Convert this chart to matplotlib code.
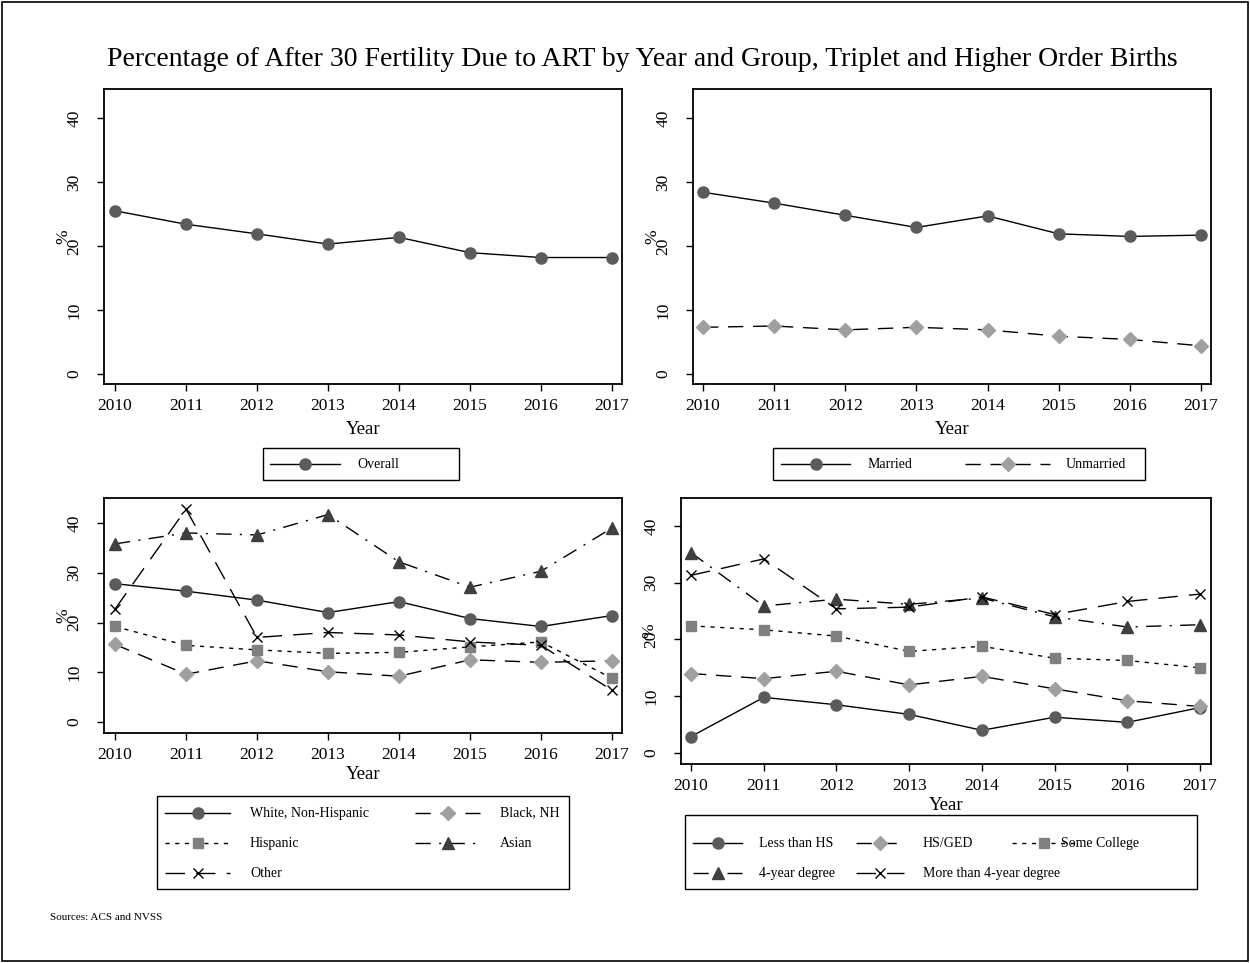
import matplotlib
matplotlib.use("Agg")
import matplotlib.pyplot as plt
from matplotlib.patches import Rectangle
from matplotlib.lines import Line2D

plt.rcParams['font.family'] = ['Liberation Serif', 'DejaVu Serif']

years = [2010, 2011, 2012, 2013, 2014, 2015, 2016, 2017]

# overall
overall = [25.5, 23.4, 21.9, 20.3, 21.35, 18.96, 18.2, 18.2]

# marital status
married = [28.4, 26.7, 24.8, 22.9, 24.7, 21.9, 21.5, 21.7]
unmarried = [7.3, 7.5, 6.9, 7.3, 6.9, 5.9, 5.4, 4.4]

# race / ethnicity
white_nh = [27.8, 26.3, 24.5, 22.0, 24.2, 20.8, 19.2, 21.4]
black_nh = [15.6, 9.6, 12.3, 10.1, 9.2, 12.5, 12.0, 12.3]
hispanic = [19.2, 15.4, 14.5, 13.8, 14.0, 15.1, 16.1, 8.8]
asian = [35.8, 38.0, 37.6, 41.7, 32.2, 27.1, 30.3, 39.0]
other = [22.7, 42.8, 17.0, 18.0, 17.5, 16.1, 15.4, 6.4]

# education
less_hs = [2.9, 9.8, 8.5, 6.8, 4.0, 6.3, 5.4, 8.0]
hs_ged = [14.0, 13.1, 14.4, 12.0, 13.5, 11.3, 9.2, 8.2]
some_college = [22.4, 21.7, 20.6, 17.9, 18.8, 16.7, 16.3, 15.0]
four_year = [35.3, 25.9, 27.1, 26.2, 27.3, 24.0, 22.2, 22.6]
more_four_year = [31.3, 34.2, 25.4, 25.7, 27.5, 24.4, 26.7, 28.0]

W, H = 1250, 963
fig = plt.figure(figsize=(W / 100, H / 100), dpi=100)
fig.patches.append(Rectangle((0.0015, 0.002), 0.997, 0.996, transform=fig.transFigure,
                             fill=False, edgecolor='black', linewidth=1.2))

# stata-like symbol styles
CIRCLE = dict(linestyle='-', marker='o', markersize=8, color='#5b5b5b')
DIAMOND = dict(linestyle=(0, (11, 7)), marker='D', markersize=7.5, color='#a0a0a0')
SQUARE = dict(linestyle=(0, (3, 4)), marker='s', markersize=7.5, color='#808080')
TRIANGLE = dict(linestyle=(0, (11, 6, 1.5, 6)), marker='^', markersize=8.5, color='#3f3f3f')
CROSS = dict(linestyle=(0, (14, 8)), marker='x', markersize=7.5, color='black')


def fx(px):
    return px / W


def fy(py):
    return 1 - py / H


def make_ax(l, t, r, b, ylim, xlim, pct_x, xpad=5):
    ax = fig.add_axes([fx(l), fy(b), (r - l) / W, (b - t) / H])
    ax.set_xlim(*xlim)
    ax.set_ylim(*ylim)
    ax.set_xticks(years)
    ax.set_yticks([0, 10, 20, 30, 40])
    ax.tick_params(direction='out', length=5, width=1, labelsize=12.5, colors='black')
    ax.tick_params(axis='x', pad=5)
    ax.tick_params(axis='y', pad=10.5)
    for lab in ax.get_yticklabels():
        lab.set_rotation(90)
        lab.set_va('center')
    for s in ax.spines.values():
        s.set_linewidth(1.3)
    ax.set_xlabel('Year', fontsize=13.5, labelpad=xpad)
    ax.text(pct_x, 0.5, '%', transform=ax.transAxes, rotation=90,
            ha='center', va='center', fontsize=12.5)
    return ax


def series(ax, y, st):
    ax.plot(years, y, linestyle=st['linestyle'], color='black', linewidth=1.0,
            marker=st['marker'], markersize=st['markersize'],
            markerfacecolor=st['color'], markeredgecolor=st['color'])


def legend_box(x0, y0, x1, y1):
    fig.patches.append(Rectangle((fx(x0), fy(y1)), (x1 - x0) / W, (y1 - y0) / H,
                                 transform=fig.transFigure, fill=False,
                                 edgecolor='black', linewidth=1.0))


def legend_key(x0, x1, y, tx, label, st):
    fig.add_artist(Line2D([fx(x0), fx(x1)], [fy(y), fy(y)], transform=fig.transFigure,
                          linestyle=st['linestyle'], color='black', linewidth=1.0))
    fig.add_artist(Line2D([fx((x0 + x1) / 2)], [fy(y)], transform=fig.transFigure,
                          linestyle='none', marker=st['marker'],
                          markersize=st['markersize'], markerfacecolor=st['color'],
                          markeredgecolor=st['color']))
    fig.text(fx(tx), fy(y), label, ha='left', va='center', fontsize=10)


# top left: overall
ax1 = make_ax(104, 89, 622, 384, (-1.56, 44.53), (2009.845, 2017.141), -0.079)
series(ax1, overall, CIRCLE)
legend_box(263, 448, 459, 480)
legend_key(270, 340, 464, 357, 'Overall', CIRCLE)

# top right: marital status
ax2 = make_ax(693, 89, 1211, 384, (-1.56, 44.53), (2009.859, 2017.141), -0.079)
series(ax2, married, CIRCLE)
series(ax2, unmarried, DIAMOND)
legend_box(773, 448, 1145, 480)
legend_key(781, 850, 464, 868, 'Married', CIRCLE)
legend_key(965, 1050, 464, 1066, 'Unmarried', DIAMOND)

# bottom left: race / ethnicity
ax3 = make_ax(104, 498, 622, 733, (-2.21, 45.03), (2009.845, 2017.141), -0.079, xpad=2.5)
for vals, st in [(white_nh, CIRCLE), (black_nh, DIAMOND), (hispanic, SQUARE),
                 (asian, TRIANGLE), (other, CROSS)]:
    series(ax3, vals, st)
legend_box(157, 796, 569, 889)
legend_key(165, 230, 813, 250, 'White, Non-Hispanic', CIRCLE)
legend_key(415, 480, 813, 500, 'Black, NH', DIAMOND)
legend_key(165, 230, 843, 250, 'Hispanic', SQUARE)
legend_key(415, 480, 843, 500, 'Asian', TRIANGLE)
legend_key(165, 230, 873, 250, 'Other', CROSS)

# bottom right: education
ax4 = make_ax(681, 498, 1211, 764, (-1.94, 44.93), (2009.862, 2017.151), -0.06, xpad=2)
for vals, st in [(less_hs, CIRCLE), (hs_ged, DIAMOND), (some_college, SQUARE),
                 (four_year, TRIANGLE), (more_four_year, CROSS)]:
    series(ax4, vals, st)
legend_box(685, 815, 1197, 889)
legend_key(693, 742, 843, 759, 'Less than HS', CIRCLE)
legend_key(856, 904, 843, 923, 'HS/GED', DIAMOND)
legend_key(1012, 1076, 843, 1061, 'Some College', SQUARE)
legend_key(693, 742, 873, 759, '4-year degree', TRIANGLE)
legend_key(856, 904, 873, 923, 'More than 4-year degree', CROSS)

fig.text(fx(642), fy(60),
         'Percentage of After 30 Fertility Due to ART by Year and Group, Triplet and Higher Order Births',
         ha='center', va='center', fontsize=20)
fig.text(fx(50), fy(917), 'Sources: ACS and NVSS', ha='left', va='center', fontsize=8)

fig.savefig('out.png', dpi=100)
